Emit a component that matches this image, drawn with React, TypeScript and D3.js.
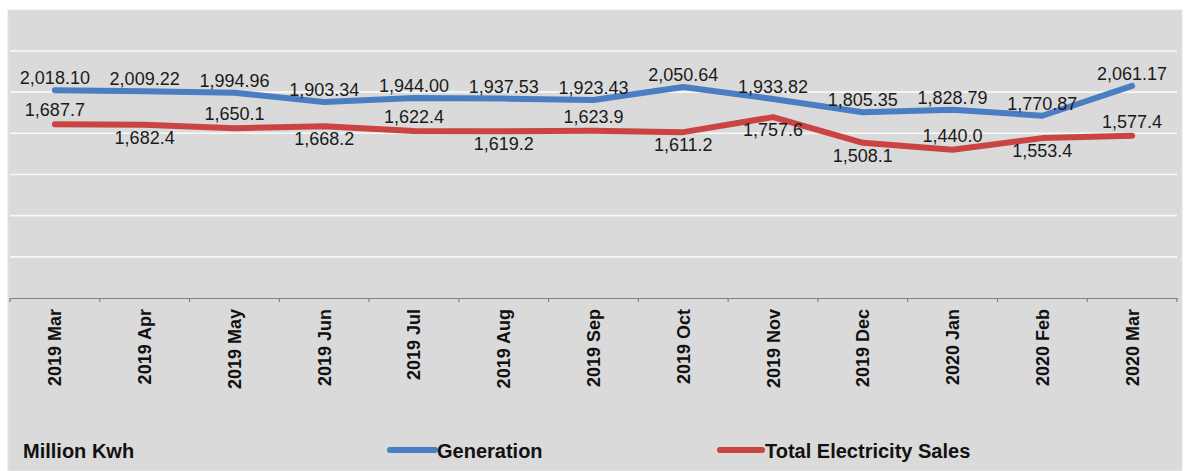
import React, { useEffect, useRef } from 'react';
import * as d3 from 'd3';

const months = [
  '2019 Mar', '2019 Apr', '2019 May', '2019 Jun', '2019 Jul', '2019 Aug', '2019 Sep',
  '2019 Oct', '2019 Nov', '2019 Dec', '2020 Jan', '2020 Feb', '2020 Mar',
];
const generation = [2018.10, 2009.22, 1994.96, 1903.34, 1944.00, 1937.53, 1923.43, 2050.64, 1933.82, 1805.35, 1828.79, 1770.87, 2061.17];
const sales = [1687.7, 1682.4, 1650.1, 1668.2, 1622.4, 1619.2, 1623.9, 1611.2, 1757.6, 1508.1, 1440.0, 1553.4, 1577.4];
// where each sales label sits relative to its point
const salesLabelSide = ['above', 'below', 'above', 'below', 'above', 'below', 'above', 'below', 'below', 'below', 'above', 'below', 'above'];
const gridTicks = [400, 800, 1200, 1600, 2000, 2400];

const W = 1188;
const H = 471;
const FONT = '"Liberation Sans", Arial, sans-serif';
const BLUE = '#4a7ec2';
const RED = '#cc4343';

function drawChart(svgEl: SVGSVGElement) {
  const svg = d3.select(svgEl);
  svg.selectAll('*').remove();

  svg.append('rect').attr('width', W).attr('height', H).attr('fill', '#ffffff');
  svg.append('rect')
    .attr('x', 8).attr('y', 10).attr('width', 1174).attr('height', H - 10)
    .attr('fill', '#dadada').attr('stroke', '#e4e4e4').attr('stroke-width', 1);

  const x = d3.scaleBand<string>().domain(months).range([10, 1177]);
  const y = d3.scaleLinear().domain([0, 2800]).range([298, 9.8]);
  const cx = (m: string) => (x(m) as number) + x.bandwidth() / 2;

  // gridlines
  svg.append('g')
    .selectAll('line')
    .data(gridTicks)
    .join('line')
    .attr('x1', 10).attr('x2', 1177)
    .attr('y1', d => y(d)).attr('y2', d => y(d))
    .attr('stroke', '#f8f8f8').attr('stroke-width', 1.6);

  // x axis
  const axis = svg.append('g')
    .attr('transform', 'translate(0,298)')
    .call(d3.axisBottom(x).tickSize(0).tickFormat(() => ''));
  axis.select('.domain').attr('stroke', '#7f7f7f').attr('stroke-width', 1.2);
  const bounds = months.map(m => x(m) as number).concat([1177]);
  axis.selectAll('line.bt')
    .data(bounds)
    .join('line')
    .attr('class', 'bt')
    .attr('x1', d => d).attr('x2', d => d)
    .attr('y1', 0).attr('y2', 4)
    .attr('stroke', '#7f7f7f').attr('stroke-width', 1.2);

  svg.append('g')
    .selectAll('text')
    .data(months)
    .join('text')
    .attr('transform', d => `translate(${cx(d)},309) rotate(-90)`)
    .attr('text-anchor', 'end')
    .attr('dy', '0.36em')
    .attr('font-family', FONT)
    .attr('font-weight', 'bold')
    .attr('font-size', 18)
    .attr('fill', '#111')
    .text(d => d);

  const line = d3.line<number>()
    .x((_, i) => cx(months[i]))
    .y(d => y(d));

  const series = [
    { values: generation, color: BLUE, fmt: d3.format(',.2f') },
    { values: sales, color: RED, fmt: d3.format(',.1f') },
  ];

  series.forEach(s => {
    svg.append('path')
      .attr('d', line(s.values) as string)
      .attr('fill', 'none')
      .attr('stroke', s.color)
      .attr('stroke-width', 6)
      .attr('stroke-linejoin', 'round')
      .attr('stroke-linecap', 'round');
  });

  svg.append('g')
    .selectAll('text')
    .data(generation)
    .join('text')
    .attr('x', (_, i) => cx(months[i]))
    .attr('y', d => y(d) - 6)
    .attr('text-anchor', 'middle')
    .attr('font-family', FONT)
    .attr('font-size', 18)
    .attr('fill', '#1a1a1a')
    .text(d => series[0].fmt(d));

  svg.append('g')
    .selectAll('text')
    .data(sales)
    .join('text')
    .attr('x', (_, i) => cx(months[i]))
    .attr('y', (d, i) => (salesLabelSide[i] === 'above' ? y(d) - 8 : y(d) + 19))
    .attr('text-anchor', 'middle')
    .attr('font-family', FONT)
    .attr('font-size', 18)
    .attr('fill', '#1a1a1a')
    .text(d => series[1].fmt(d));

  // legend
  const lg = svg.append('g').attr('font-family', FONT).attr('font-weight', 'bold').attr('font-size', 20).attr('fill', '#111');
  lg.append('text').attr('x', 23).attr('y', 458).text('Million Kwh');
  lg.append('line').attr('x1', 390).attr('x2', 435).attr('y1', 450).attr('y2', 450)
    .attr('stroke', BLUE).attr('stroke-width', 6).attr('stroke-linecap', 'round');
  lg.append('text').attr('x', 437).attr('y', 458).text('Generation');
  lg.append('line').attr('x1', 720).attr('x2', 762).attr('y1', 450).attr('y2', 450)
    .attr('stroke', RED).attr('stroke-width', 6).attr('stroke-linecap', 'round');
  lg.append('text').attr('x', 765).attr('y', 458).text('Total Electricity Sales');
}

export default function App() {
  const ref = useRef<SVGSVGElement>(null);

  useEffect(() => {
    document.body.style.margin = '0';
    if (ref.current) drawChart(ref.current);
  }, []);

  return <svg ref={ref} width={W} height={H} style={{ display: 'block' }} />;
}
